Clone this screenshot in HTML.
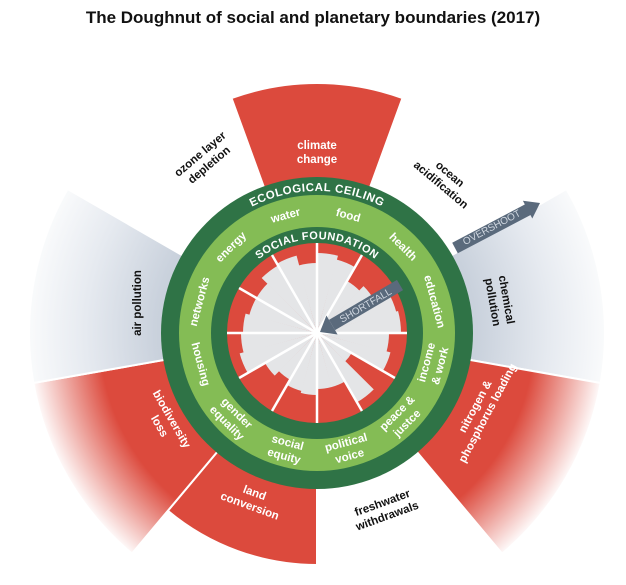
<!DOCTYPE html>
<html><head><meta charset="utf-8"><style>
html,body{margin:0;padding:0;background:#fff;}
svg{display:block;font-family:"Liberation Sans","DejaVu Sans",sans-serif;font-weight:bold;}
</style></head><body>
<svg id="s" width="626" height="585" viewBox="0 0 626 585" xmlns="http://www.w3.org/2000/svg">
<defs>
<radialGradient id="gr" gradientUnits="userSpaceOnUse" cx="317" cy="333" r="290">
<stop offset="0.75" stop-color="#dc4a3d"/><stop offset="1" stop-color="#fff"/></radialGradient>
<radialGradient id="gg" gradientUnits="userSpaceOnUse" cx="317" cy="333" r="290">
<stop offset="0.55" stop-color="#c9d1dc"/><stop offset="0.8" stop-color="#e6eaf0"/><stop offset="1" stop-color="#fafbfc"/></radialGradient>
</defs>
<text x="313" y="23" text-anchor="middle" font-size="17" fill="#111">The Doughnut of social and planetary boundaries (2017)</text>
<g id="wedges"></g>
<circle cx="317" cy="333" r="156" fill="#2f7346"/>
<circle cx="317" cy="333" r="138" fill="#84bc55"/>
<circle cx="317" cy="333" r="106" fill="#2f7346"/>
<circle cx="317" cy="333" r="90" fill="#dc4a3d"/>
<g id="core"></g>
<path id="pe" d="M208.2,241.7 A142,142 0 0 1 425.8,241.7" fill="none"/>
<path id="ps" d="M245,272.6 A94,94 0 0 1 389,272.6" fill="none"/>
<text font-size="11.5" fill="#fff" letter-spacing="0.5"><textPath href="#pe" startOffset="50%" text-anchor="middle">ECOLOGICAL CEILING</textPath></text>
<text font-size="11" fill="#fff" letter-spacing="0.5"><textPath href="#ps" startOffset="50%" text-anchor="middle">SOCIAL FOUNDATION</textPath></text>
<g font-size="11.5" fill="#fff" text-anchor="middle" dominant-baseline="central">
<text transform="translate(348,216) rotate(15)">food</text>
<text transform="translate(402.6,247.4) rotate(45)">health</text>
<text transform="translate(433.9,301.7) rotate(75)">education</text>
<text transform="translate(433.9,364.3) rotate(-75)"><tspan x="0" dy="-7">income</tspan><tspan x="0" dy="14">&amp; work</tspan></text>
<text transform="translate(402.6,418.6) rotate(-45)"><tspan x="0" dy="-7">peace &amp;</tspan><tspan x="0" dy="14">justce</tspan></text>
<text transform="translate(348,449.9) rotate(-15)"><tspan x="0" dy="-7">political</tspan><tspan x="0" dy="14">voice</tspan></text>
<text transform="translate(285.7,449.9) rotate(15)"><tspan x="0" dy="-7">social</tspan><tspan x="0" dy="14">equity</tspan></text>
<text transform="translate(231.4,418.6) rotate(45)"><tspan x="0" dy="-7">gender</tspan><tspan x="0" dy="14">equality</tspan></text>
<text transform="translate(200.1,364.3) rotate(75)">housing</text>
<text transform="translate(200.1,301.7) rotate(-75)">networks</text>
<text transform="translate(231.4,247.4) rotate(-45)">energy</text>
<text transform="translate(285.7,216.1) rotate(-15)">water</text>
</g>
<g font-size="11.5" text-anchor="middle" dominant-baseline="central">
<text fill="#fff" transform="translate(317,153)"><tspan x="0" dy="-7">climate</tspan><tspan x="0" dy="14">change</tspan></text>
<text fill="#111" transform="translate(205,160) rotate(-40)"><tspan x="0" dy="-7">ozone layer</tspan><tspan x="0" dy="14">depletion</tspan></text>
<text fill="#111" transform="translate(445,180) rotate(40)"><tspan x="0" dy="-7">ocean</tspan><tspan x="0" dy="14">acidification</tspan></text>
<text fill="#111" transform="translate(499,301) rotate(80)"><tspan x="0" dy="-7">chemical</tspan><tspan x="0" dy="14">pollution</tspan></text>
<text fill="#111" transform="translate(138,303) rotate(-90)">air pollution</text>
<text fill="#fff" transform="translate(165,423) rotate(60)"><tspan x="0" dy="-7">biodiversity</tspan><tspan x="0" dy="14">loss</tspan></text>
<text fill="#fff" transform="translate(482,410) rotate(-62)"><tspan x="0" dy="-7">nitrogen &amp;</tspan><tspan x="0" dy="14">phosphorus loading</tspan></text>
<text fill="#fff" transform="translate(252,500) rotate(20)"><tspan x="0" dy="-7">land</tspan><tspan x="0" dy="14">conversion</tspan></text>
<text fill="#111" transform="translate(385,510) rotate(-20)"><tspan x="0" dy="-7">freshwater</tspan><tspan x="0" dy="14">withdrawals</tspan></text>
</g>
<line x1="400" y1="285" x2="332" y2="325" stroke="#5a6a7c" stroke-width="12"/>
<polygon points="320,332 337.6,334.5 326.4,315.5" fill="#5a6a7c"/>
<text transform="translate(366,306) rotate(-30.4)" font-size="10" font-weight="normal" fill="#d0d7e0" text-anchor="middle" dominant-baseline="central">SHORTFALL</text>
<line x1="455" y1="248" x2="528" y2="209.6" stroke="#5a6a7c" stroke-width="12"/>
<polygon points="540,203 532.3,218.5 522.9,200.7" fill="#5a6a7c"/>
<text transform="translate(492,228) rotate(-28)" font-size="10" font-weight="normal" fill="#d0d7e0" text-anchor="middle" dominant-baseline="central">OVERSHOOT</text>
</svg>
<script>
(function(){
var cx=317,cy=333,NS="http://www.w3.org/2000/svg";
function pt(r,a){a=a*Math.PI/180;return [cx+r*Math.sin(a),cy-r*Math.cos(a)];}
function sec(r0,r1,a0,a1){var p0=pt(r1,a0),p1=pt(r1,a1),p2=pt(r0,a1),p3=pt(r0,a0);var l=(a1-a0)>180?1:0;
return "M"+p3+" L"+p0+" A"+r1+","+r1+" 0 "+l+" 1 "+p1+" L"+p2+(r0>0?" A"+r0+","+r0+" 0 "+l+" 0 "+p3:"")+" Z";}
function add(g,d,f,st){var e=document.createElementNS(NS,"path");e.setAttribute("d",d);e.setAttribute("fill",f);if(st){e.setAttribute("stroke","#fff");e.setAttribute("stroke-width",st);}document.getElementById(g).appendChild(e);}
var W=[[0,250,"#dc4a3d"],[80,288,"url(#gg)"],[120,288,"url(#gr)"],[200,232,"#dc4a3d"],[240,288,"url(#gr)"],[280,288,"url(#gg)"]];
W.forEach(function(w){add("wedges",sec(150,w[1],w[0]-20,w[0]+20),w[2],2);});
var C=[[80,76],[60,66],[82,84],[72,76],[40,80],[56,56],[62,60],[54,60],[80,76],[74,70],[70,78],[80,70]];
C.forEach(function(c,i){var a=i*30;add("core",sec(0,c[0],a-0.2,a+15.2),"#e4e5e7");add("core",sec(0,c[1],a+14.8,a+30.2),"#e4e5e7");});
for(var i=0;i<12;i++){var p=pt(90,i*30);var l=document.createElementNS(NS,"line");l.setAttribute("x1",cx);l.setAttribute("y1",cy);l.setAttribute("x2",p[0]);l.setAttribute("y2",p[1]);l.setAttribute("stroke","#fff");l.setAttribute("stroke-width","2.5");document.getElementById("core").appendChild(l);}
})();
</script>
</body></html>
